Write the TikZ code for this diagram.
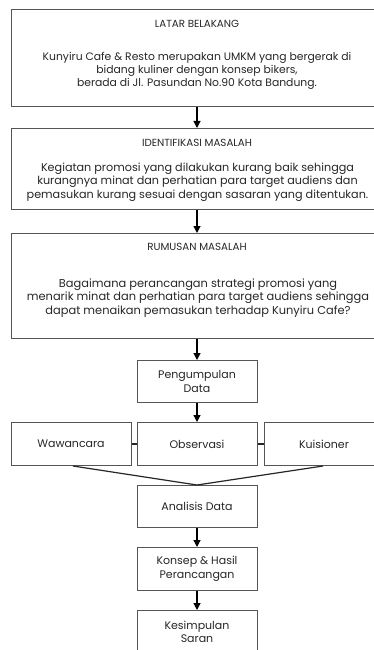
\documentclass[tikz,border=0pt]{standalone}
\usepackage{fontspec}
\setmainfont{Poppins}
\usetikzlibrary{arrows.meta}
\definecolor{boxline}{HTML}{555555}
\definecolor{txt}{HTML}{262626}
\tikzset{
  bigbox/.style={draw=boxline, line width=1pt, minimum width=372pt, inner sep=0pt, anchor=north},
  smallbox/.style={draw=boxline, line width=1pt, minimum width=120pt, minimum height=42pt, inner sep=0pt, anchor=north, align=center, text=txt, font=\fontsize{11}{13.5}\selectfont},
  titletext/.style={text=txt, font=\fontsize{10.3}{12}\selectfont, inner sep=0pt},
  bodytext/.style={text=txt, align=center, inner sep=0pt},
  arr/.style={-{Triangle[width=7pt,length=7pt]}, line width=1.2pt, black},
  link/.style={line width=1.2pt, draw=black!85},
}
\begin{document}
\begin{tikzpicture}[x=1pt,y=-1pt]
\useasboundingbox (0,0) rectangle (374,650);
\clip (0,0) rectangle (374,650);
% big boxes
\node[bigbox, minimum height=97pt] (b1) at (197,9) {};
\node[titletext] (t1) at (197,24) {LATAR BELAKANG};
\node[bodytext, font=\fontsize{10.8}{13.2}\selectfont] (d1) at (197,71) {Kunyiru Cafe \& Resto merupakan UMKM yang bergerak di\\bidang kuliner dengan konsep bikers,\\berada di Jl. Pasundan No.90 Kota Bandung.};

\node[bigbox, minimum height=81pt] (b2) at (197,128) {};
\node[titletext] (t2) at (197,143) {IDENTIFIKASI MASALAH};
\node[bodytext, font=\fontsize{11.2}{13.6}\selectfont] (d2) at (197.5,182) {Kegiatan promosi yang dilakukan kurang baik sehingga\\kurangnya minat dan perhatian para target audiens dan\\pemasukan kurang sesuai dengan sasaran yang ditentukan.};

\node[bigbox, minimum height=105pt] (b3) at (197,233) {};
\node[titletext] (t3) at (197,247) {RUMUSAN MASALAH};
\node[bodytext, font=\fontsize{11.4}{13.4}\selectfont] (d3) at (198,298) {Bagaimana perancangan strategi promosi yang\\menarik minat dan perhatian para target audiens sehingga\\dapat menaikan pemasukan terhadap Kunyiru Cafe?};

% small boxes
\node[smallbox] (pd) at (197,360) {Pengumpulan\\Data};
\node[smallbox, minimum height=43pt] (ww) at (71,422) {Wawancara};
\node[smallbox, minimum height=43pt] (ob) at (197,422) {Observasi};
\node[smallbox, minimum height=43pt] (ku) at (324,422) {Kuisioner};
\node[smallbox] (ad) at (197,485) {Analisis Data};
\node[smallbox, minimum height=43pt] (kh) at (197,547) {Konsep \& Hasil\\Perancangan};
\node[smallbox, minimum height=43pt] (ks) at (197,610) {Kesimpulan\\Saran};

% connectors
\draw[arr] (b1.south) -- (b2.north);
\draw[arr] (b2.south) -- (b3.north);
\draw[arr] (b3.south) -- (pd.north);
\draw[arr] (pd.south) -- (ob.north);
\draw[link] (ww.east) -- (ob.west);
\draw[link] (ob.east) -- (ku.west);
\draw[link] ([xshift=2pt]ww.south) -- (ad.north);
\draw[link] ([xshift=-1pt]ku.south) -- (ad.north);
\draw[arr] (ad.south) -- (kh.north);
\draw[arr] (kh.south) -- (ks.north);
\end{tikzpicture}
\end{document}
